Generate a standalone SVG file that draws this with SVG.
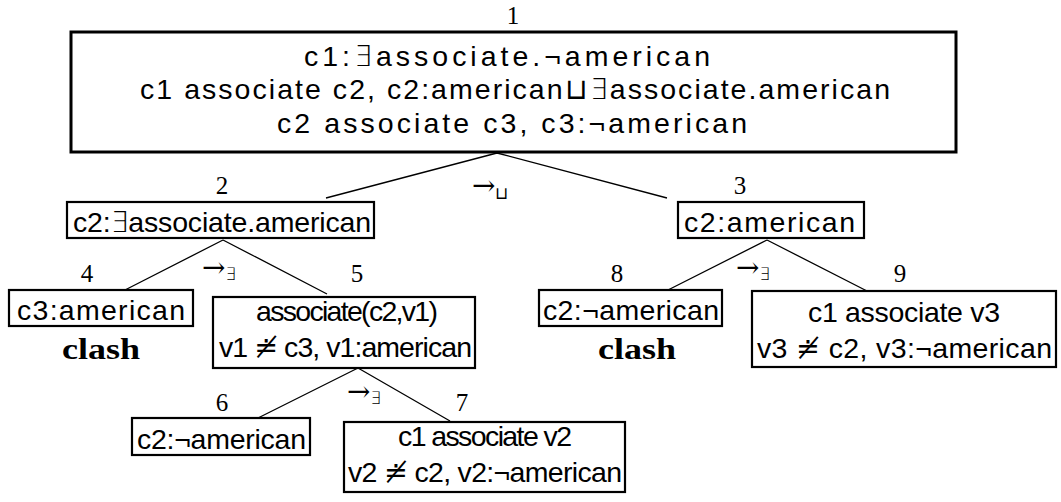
<svg xmlns="http://www.w3.org/2000/svg" width="1061" height="502" viewBox="0 0 1061 502">
  <style>
    .box { fill: #fff; stroke: #000; stroke-width: 2.2; }
    .big { stroke-width: 3; }
    .t { font-family: "Liberation Sans", "DejaVu Sans", sans-serif; font-size: 28.5px; fill: #000; }
    .sym { font-family: "DejaVu Sans", sans-serif; font-weight: 200; }
    .n { font-family: "Liberation Serif", "DejaVu Serif", serif; font-size: 25px; fill: #000; text-anchor: middle; }
    .clash { font-family: "Liberation Serif", "DejaVu Serif", serif; font-size: 30px; font-weight: bold; fill: #000; }
    .rule { font-family: "DejaVu Serif", "Liberation Serif", serif; font-size: 28px; fill: #000; }
    .sub { font-family: "DejaVu Sans", sans-serif; font-size: 17px; font-weight: 200; }
    .edge { stroke: #000; stroke-width: 1.3; fill: none; }
  </style>

  <!-- tree edges -->
  <g id="connectors">
    <path class="edge" d="M497,153 L326,198 M497,153 L667,198"/>
    <path class="edge" d="M223,240 L125,290 M223,240 L327,294"/>
    <path class="edge" d="M767,240 L668,290 M767,240 L867,291"/>
    <path class="edge" d="M358,368 L258,418 M358,368 L450,421"/>
  </g>

  <!-- rule labels on the branches -->
  <g id="rules">
    <text class="rule" x="472" y="195">→<tspan class="sub" dy="4">⊔</tspan></text>
    <text class="rule" x="202" y="277">→<tspan class="sub" dy="3">∃</tspan></text>
    <text class="rule" x="736" y="277">→<tspan class="sub" dy="3">∃</tspan></text>
    <text class="rule" x="347" y="401">→<tspan class="sub" dy="3">∃</tspan></text>
  </g>

  <g id="node1">
    <text class="n" x="513" y="24">1</text>
    <rect class="box big" x="71" y="32" width="885" height="120"/>
    <text class="t" x="304" y="66" textLength="406" lengthAdjust="spacing">c1:<tspan class="sym">∃</tspan>associate.¬american</text>
    <text class="t" x="140" y="99" textLength="750" lengthAdjust="spacing">c1 associate c2, c2:american<tspan class="sym">⊔∃</tspan>associate.american</text>
    <text class="t" x="277" y="133" textLength="470" lengthAdjust="spacing">c2 associate c3, c3:¬american</text>
  </g>

  <g id="node2">
    <text class="n" x="222" y="194">2</text>
    <rect class="box" x="67" y="202" width="307" height="36"/>
    <text class="t" x="73" y="232" textLength="298" lengthAdjust="spacing">c2:<tspan class="sym">∃</tspan>associate.american</text>
  </g>

  <g id="node3">
    <text class="n" x="740" y="194">3</text>
    <rect class="box" x="678" y="202" width="186" height="36"/>
    <text class="t" x="684" y="232" textLength="171" lengthAdjust="spacing">c2:american</text>
  </g>

  <g id="node4">
    <text class="n" x="87" y="282">4</text>
    <rect class="box" x="9" y="290" width="184" height="36"/>
    <text class="t" x="17" y="320" textLength="168" lengthAdjust="spacing">c3:american</text>
    <text class="clash" x="62" y="359" textLength="78" lengthAdjust="spacingAndGlyphs">clash</text>
  </g>

  <g id="node5">
    <text class="n" x="357" y="282">5</text>
    <rect class="box" x="213" y="297" width="262" height="71"/>
    <text class="t" x="256" y="321" textLength="182" lengthAdjust="spacing">associate(c2,v1)</text>
    <text class="t" x="219" y="357" textLength="253" lengthAdjust="spacing">v1 ≐̸ c3, v1:american</text>
  </g>

  <g id="node6">
    <text class="n" x="222" y="411">6</text>
    <rect class="box" x="132" y="418" width="178" height="37"/>
    <text class="t" x="137" y="449" textLength="169" lengthAdjust="spacing">c2:¬american</text>
  </g>

  <g id="node7">
    <text class="n" x="462" y="411">7</text>
    <rect class="box" x="344" y="422" width="281" height="70"/>
    <text class="t" x="398" y="446" textLength="174" lengthAdjust="spacing">c1 associate v2</text>
    <text class="t" x="348" y="482" textLength="274" lengthAdjust="spacing">v2 ≐̸ c2, v2:¬american</text>
  </g>

  <g id="node8">
    <text class="n" x="617" y="282">8</text>
    <rect class="box" x="539" y="290" width="183" height="36"/>
    <text class="t" x="543" y="320" textLength="176" lengthAdjust="spacing">c2:¬american</text>
    <text class="clash" x="598" y="359" textLength="78" lengthAdjust="spacingAndGlyphs">clash</text>
  </g>

  <g id="node9">
    <text class="n" x="900" y="282">9</text>
    <rect class="box" x="752" y="291" width="304" height="76"/>
    <text class="t" x="808" y="322" textLength="192" lengthAdjust="spacing">c1 associate v3</text>
    <text class="t" x="757" y="358" textLength="295" lengthAdjust="spacing">v3 ≐̸ c2, v3:¬american</text>
  </g>
</svg>
